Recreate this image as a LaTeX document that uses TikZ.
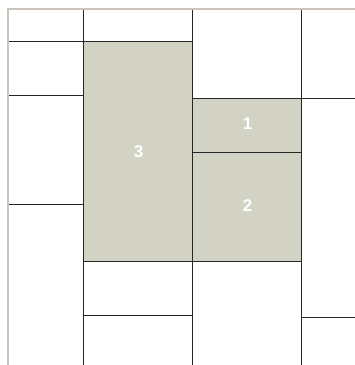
\documentclass[tikz,border=0pt]{standalone}
\usepackage{fontspec}
\setmainfont{Liberation Sans}
\begin{document}
\begin{tikzpicture}[x=1pt,y=-1pt,
  grid/.style={draw=black!85,line width=1pt},
  frame/.style={draw=frameg,line width=2pt},
  cell/.style={fill=cellg},
  lab/.style={text=white,font=\bfseries\fontsize{17}{17}\selectfont,inner sep=0pt}]
\definecolor{cellg}{HTML}{D2D3C5}
\definecolor{frameg}{HTML}{CBC4BC}
\useasboundingbox (0,0) rectangle (355,365);
\fill[white] (0,0) rectangle (355,365);
% shaded cells
\fill[cellg] (83,41) rectangle (192,261);
\fill[cellg] (192,98) rectangle (301,261);
% frame
\draw[frame] (8,365) -- (8,9) -- (355,9);
% vertical lines
\draw[grid] (83,10) -- (83,365);
\draw[grid] (192,10) -- (192,365);
\draw[grid] (301,10) -- (301,365);
% horizontal lines
\draw[grid] (9,41) -- (192,41);
\draw[grid] (9,95) -- (83,95);
\draw[grid] (192,98) -- (355,98);
\draw[grid] (192,152) -- (301,152);
\draw[grid] (9,204) -- (83,204);
\draw[grid] (83,261) -- (301,261);
\draw[grid] (83,315) -- (192,315);
\draw[grid] (301,317) -- (355,317);
% labels
\node[lab] (n3) at (138.5,152) {3};
\node[lab] (n1) at (247.5,124) {1};
\node[lab] (n2) at (247.5,206) {2};
\end{tikzpicture}
\end{document}
